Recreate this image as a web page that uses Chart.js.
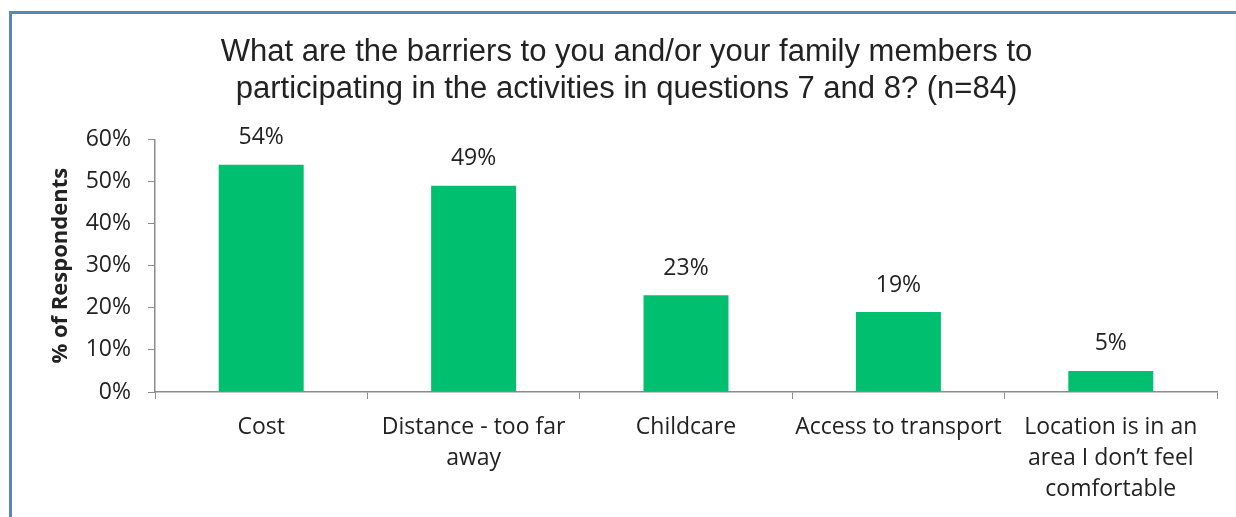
<!DOCTYPE html>
<html lang="en">
<head>
    <meta charset="UTF-8">
    <title>Barriers to participating in activities</title>
    <script src="https://cdn.jsdelivr.net/npm/chart.js"></script>
    <style>
        html, body {
            margin: 0;
            padding: 0;
            background: #ffffff;
            overflow: hidden;
        }
        #wrap {
            position: relative;
            width: 1236px;
            height: 517px;
        }
        #frame {
            position: absolute;
            left: 9px;
            top: 11px;
            width: 1300px;
            height: 600px;
            border-left: 3px solid #5a87b5;
            border-top: 3px solid #5a87b5;
            pointer-events: none;
        }
        canvas {
            position: absolute;
            left: 0;
            top: 0;
        }
    </style>
</head>
<body>
    <div id="wrap">
        <canvas id="myChart" width="1236" height="517"></canvas>
        <div id="frame"></div>
    </div>

    <script>
        const titleLines = [
            'What are the barriers to you and/or your family members to',
            'participating in the activities in questions 7 and 8? (n=84)'
        ];
        const categories = [
            'Cost',
            ['Distance - too far', 'away'],
            'Childcare',
            'Access to transport',
            ['Location is in an', 'area I don\u2019t feel', 'comfortable']
        ];
        const percentValues = [54, 49, 23, 19, 5];
        const yTicks = [0, 10, 20, 30, 40, 50, 60];

        const barGreen = '#00bf6f';
        const axisGray = '#8c8c8c';
        const textColor = '#222222';
        const labelFont = '"Open Sans", Lato, sans-serif';

        // writes the percentage above each bar
        const valueLabels = {
            id: 'valueLabels',
            afterDatasetsDraw(chart) {
                const ctx = chart.ctx;
                const meta = chart.getDatasetMeta(0);
                ctx.save();
                ctx.font = '23px ' + labelFont;
                ctx.fillStyle = textColor;
                ctx.textAlign = 'center';
                ctx.textBaseline = 'middle';
                meta.data.forEach((bar, i) => {
                    ctx.fillText(percentValues[i] + '%', bar.x, bar.y - 27);
                });
                ctx.restore();
            }
        };

        const ctx = document.getElementById('myChart').getContext('2d');

        const myChart = new Chart(ctx, {
            type: 'bar',
            data: {
                labels: categories,
                datasets: [{
                    label: '% of Respondents',
                    data: percentValues,
                    backgroundColor: barGreen,
                    borderWidth: 0,
                    barPercentage: 1,
                    categoryPercentage: 0.4
                }]
            },
            options: {
                responsive: false,
                animation: false,
                layout: {
                    padding: { top: 20, right: 19, bottom: 0, left: 36 }
                },
                plugins: {
                    legend: { display: false },
                    tooltip: { enabled: false },
                    title: {
                        display: true,
                        text: titleLines,
                        color: textColor,
                        font: { family: '"Liberation Sans", Arial, sans-serif', size: 31, weight: 'normal', lineHeight: 1.2 },
                        padding: { top: 14, bottom: 31 }
                    }
                },
                scales: {
                    x: {
                        afterFit(scale) {
                            scale.height = 125;
                        },
                        grid: {
                            display: true,
                            drawOnChartArea: false,
                            drawTicks: true,
                            tickLength: 7,
                            color: axisGray
                        },
                        border: { display: true, color: axisGray, width: 1.5 },
                        ticks: {
                            color: textColor,
                            padding: 13,
                            maxRotation: 0,
                            autoSkip: false,
                            font: { family: labelFont, size: 23, lineHeight: 1.35 }
                        }
                    },
                    y: {
                        min: 0,
                        max: 60,
                        afterBuildTicks(scale) {
                            scale.ticks = yTicks.map(v => ({ value: v }));
                        },
                        afterFit(scale) {
                            scale.width = 119;
                        },
                        grid: {
                            display: true,
                            drawOnChartArea: false,
                            drawTicks: true,
                            tickLength: 7,
                            color: axisGray
                        },
                        border: { display: true, color: axisGray, width: 1.5 },
                        ticks: {
                            color: textColor,
                            padding: 17,
                            font: { family: labelFont, size: 23 },
                            callback: v => v + '%'
                        },
                        title: {
                            display: true,
                            text: '% of Respondents',
                            color: textColor,
                            font: { family: labelFont, size: 22, weight: 'bold' },
                            padding: { top: 12, bottom: 0 }
                        }
                    }
                }
            },
            plugins: [valueLabels]
        });
    </script>
</body>
</html>
